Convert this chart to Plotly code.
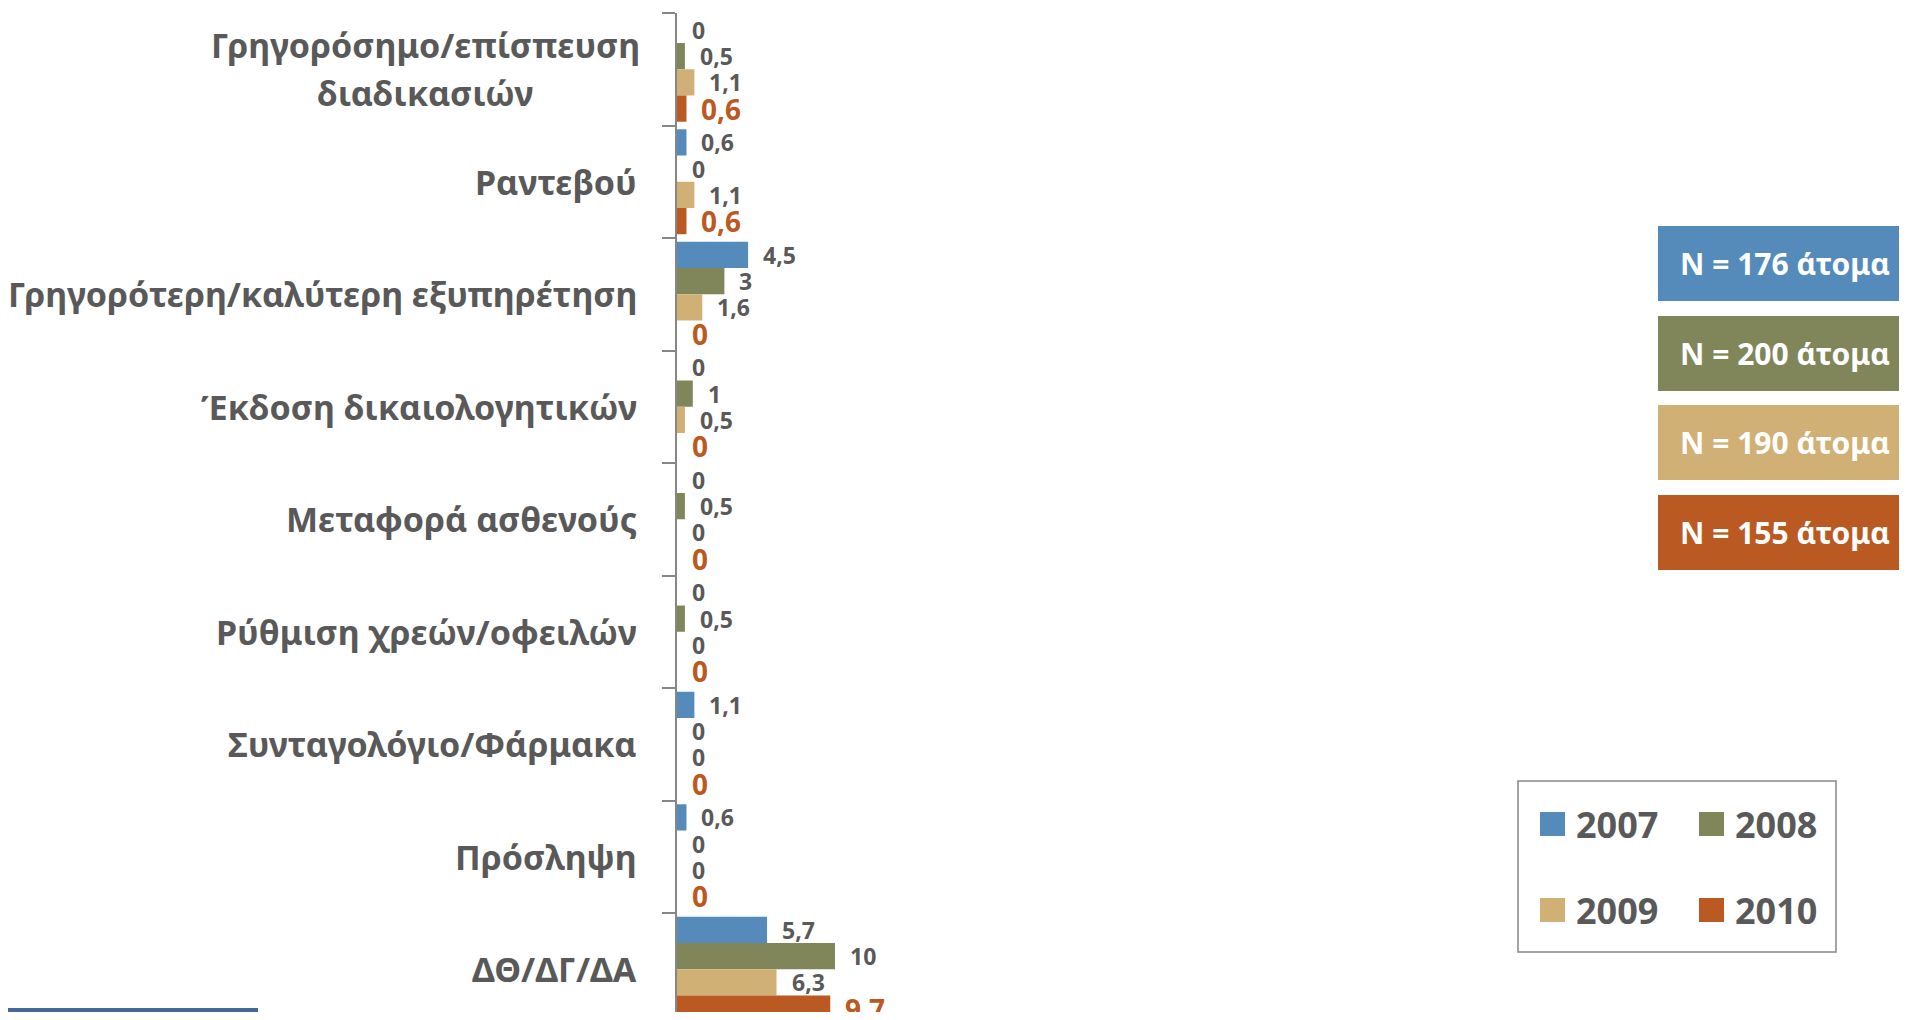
import plotly.graph_objects as go

# page body has an 8px margin; figure coordinates below are page pixels minus 8
OFF = 8
W, H = 1907 - 2 * OFF, 1020 - 2 * OFF

categories = ["Γρηγορόσημο/επίσπευση διαδικασιών", "Ραντεβού",
              "Γρηγορότερη/καλύτερη εξυπηρέτηση", "Έκδοση δικαιολογητικών",
              "Μεταφορά ασθενούς", "Ρύθμιση χρεών/οφειλών",
              "Συνταγολόγιο/Φάρμακα", "Πρόσληψη", "ΔΘ/ΔΓ/ΔΑ"]
category_label_lines = [["Γρηγορόσημο/επίσπευση", "διαδικασιών"], ["Ραντεβού"],
                        ["Γρηγορότερη/καλύτερη εξυπηρέτηση"], ["Έκδοση δικαιολογητικών"],
                        ["Μεταφορά ασθενούς"], ["Ρύθμιση χρεών/οφειλών"],
                        ["Συνταγολόγιο/Φάρμακα"], ["Πρόσληψη"], ["ΔΘ/ΔΓ/ΔΑ"]]
years = ["2007", "2008", "2009", "2010"]
v2007 = [0, 0.6, 4.5, 0, 0, 0, 1.1, 0.6, 5.7]
v2008 = [0.5, 0, 3, 1, 0.5, 0.5, 0, 0, 10]
v2009 = [1.1, 1.1, 1.6, 0.5, 0, 0, 0, 0, 6.3]
v2010 = [0.6, 0.6, 0, 0, 0, 0, 0, 0, 9.7]
sample_sizes = ["N = 176 άτομα", "N = 200 άτομα", "N = 190 άτομα", "N = 155 άτομα"]

series = [v2007, v2008, v2009, v2010]
colors = ["#558BBA", "#80865A", "#D0B075", "#BA5A22"]
GRAY = "#595959"
AXIS = "#868686"
FONT = "Noto Sans"

BARGAP = 0.067
n_cat = len(categories)
n_ser = len(series)
bar_w = (1 - BARGAP) / n_ser

fig = go.Figure()
for name, vals, col in zip(years, series, colors):
    fig.add_trace(go.Bar(
        x=vals, y=categories, orientation="h", name=name,
        marker=dict(color=col, line=dict(width=0)),
        showlegend=False, hoverinfo="x+y+name",
    ))

def fmt(v):
    return f"{v:g}".replace(".", ",")

def px(x):
    return (x - OFF) / W

def py(y):
    return 1 - (y - OFF) / H

annotations = []
# data labels
for si, (vals, col) in enumerate(zip(series, colors)):
    last = si == n_ser - 1
    for ci, v in enumerate(vals):
        annotations.append(dict(
            x=v, y=ci + (si - (n_ser - 1) / 2) * bar_w, xref="x", yref="y",
            text=f"<b>{fmt(v)}</b>", showarrow=False,
            xanchor="left", yanchor="middle", xshift=13,
            font=dict(family=FONT, size=28 if last else 23,
                      color=col if last else GRAY),
        ))
# category labels (wrapped labels centred on their block, 48px line pitch)
LABEL_RIGHT = 639
WRAP_CENTRE = 425
LINE_PITCH = 48
for ci, lines in enumerate(category_label_lines):
    nl = len(lines)
    for li, line in enumerate(lines):
        annotations.append(dict(
            x=px(LABEL_RIGHT if nl == 1 else WRAP_CENTRE), y=ci,
            xref="paper", yref="y",
            yshift=((nl - 1) / 2 - li) * LINE_PITCH,
            text=f"<b>{line}</b>", showarrow=False,
            xanchor="right" if nl == 1 else "center",
            yanchor="middle",
            font=dict(family=FONT, size=34, color=GRAY),
        ))

shapes = []
# N boxes
box_tops = [226, 316, 405, 495]
for top, txt, col in zip(box_tops, sample_sizes, colors):
    shapes.append(dict(type="rect", xref="paper", yref="paper",
                       x0=px(1658), x1=1.02, y0=py(top + 75), y1=py(top),
                       fillcolor=col, line=dict(width=0), layer="above"))
    annotations.append(dict(
        x=px(1678), y=py(top + 37.5), xref="paper", yref="paper",
        text=f"<b>{txt}</b>", showarrow=False, xanchor="left", yanchor="middle",
        font=dict(family=FONT, size=30, color="white"),
    ))

# custom legend
shapes.append(dict(type="rect", xref="paper", yref="paper",
                   x0=px(1518), x1=px(1836), y0=py(952), y1=py(781),
                   fillcolor="white", line=dict(color=AXIS, width=1.5)))
leg_cols = [1540, 1699]
leg_rows = [824, 910]
for i, (name, col) in enumerate(zip(years, colors)):
    cx = leg_cols[i % 2]
    cy = leg_rows[i // 2]
    shapes.append(dict(type="rect", xref="paper", yref="paper",
                       x0=px(cx), x1=px(cx + 25), y0=py(cy + 12), y1=py(cy - 12),
                       fillcolor=col, line=dict(width=0)))
    annotations.append(dict(
        x=px(cx + 34), y=py(cy), xref="paper", yref="paper",
        text=f"<b>{name}</b>", showarrow=False, xanchor="left", yanchor="middle",
        font=dict(family=FONT, size=36, color=GRAY),
    ))

# decorative slide bar bottom-left
shapes.append(dict(type="rect", xref="paper", yref="paper",
                   x0=0, x1=px(258), y0=-0.01, y1=4 / H,
                   fillcolor="#41699A", line=dict(width=0)))

X0 = 677 - OFF
PX_PER_UNIT = 15.8
CAT_PX = 112.5
TOP = 13 - OFF
y_bottom = -0.5 + (H - TOP) / CAT_PX

fig.update_layout(
    width=W, height=H,
    margin=dict(l=0, r=0, t=0, b=0),
    paper_bgcolor="white", plot_bgcolor="white",
    barmode="group", bargap=BARGAP, bargroupgap=0,
    xaxis=dict(domain=[X0 / W, 1], range=[0, (W - X0) / PX_PER_UNIT],
               visible=False, fixedrange=True),
    yaxis=dict(domain=[0, 1 - TOP / H], type="category",
               range=[y_bottom, -0.5],
               showline=True, linecolor=AXIS, linewidth=1.5,
               ticks="outside", ticklen=13, tickcolor=AXIS, tickwidth=1.5,
               tickson="boundaries", showticklabels=False,
               showgrid=False, zeroline=False, automargin=False),
    annotations=annotations,
    shapes=shapes,
    showlegend=False,
)

fig.write_html("out.html")
